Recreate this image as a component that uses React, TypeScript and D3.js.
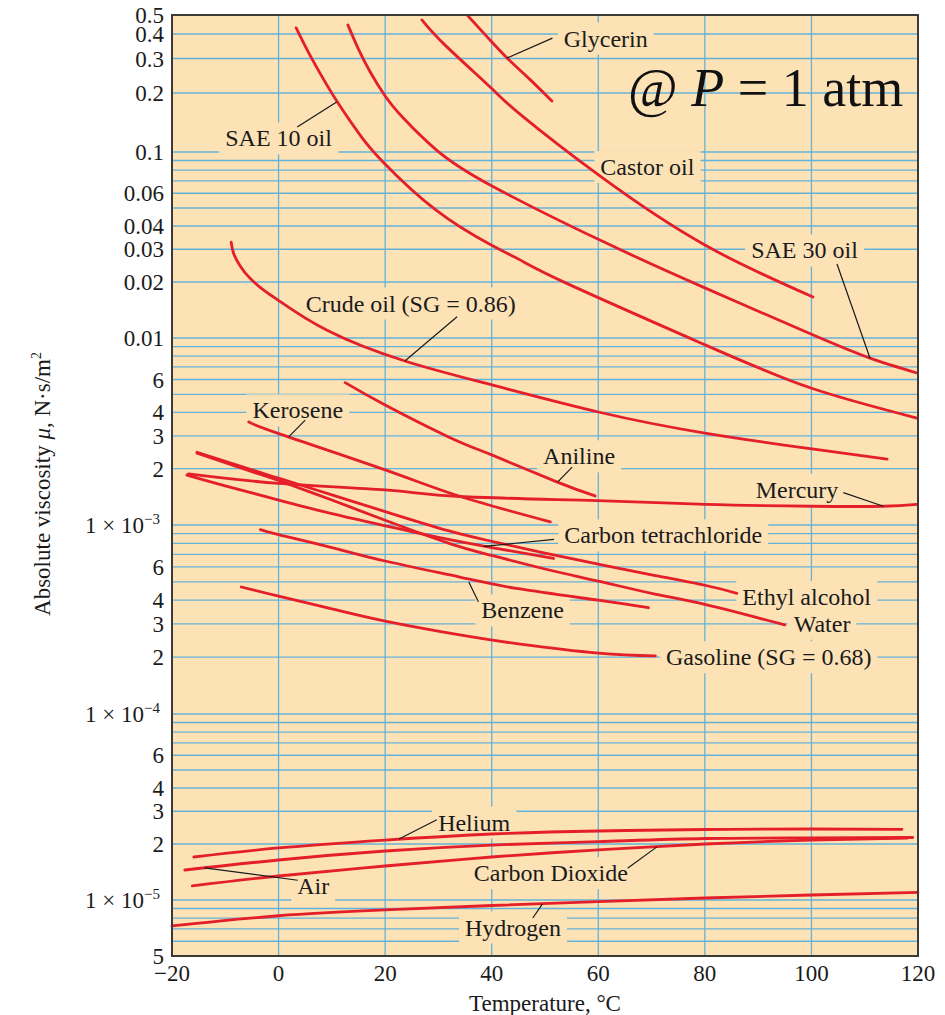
import { useEffect, useRef } from "react";
import * as d3 from "d3";

// viscosity of fluids at 1 atm as [°C, N·s/m²]
const glycerin = [[35.55, 0.494], [39.1, 0.388], [42.87, 0.302], [47.2, 0.234], [51.3, 0.182]];
const castorOil = [[26.9, 0.472], [31.2, 0.352], [39.9, 0.212], [45.3, 0.156], [60.3, 0.0743], [80, 0.0316], [100.3, 0.0166]];
const sae30 = [[13, 0.445], [14.9, 0.339], [17.2, 0.256], [20, 0.193], [23.4, 0.149], [29.7, 0.102], [39.7, 0.0665], [60.3, 0.0336], [80, 0.0186], [99.9, 0.0105], [111, 0.0078], [119.8, 0.0065]];
const sae10 = [[3.3, 0.43], [5, 0.347], [7, 0.275], [10.8, 0.184], [15.3, 0.122], [19.6, 0.0884], [29.5, 0.0488], [39.9, 0.0316], [45.3, 0.0263], [54.7, 0.0193], [80, 0.0092], [99.9, 0.0054], [119.8, 0.00373]];
const crudeOil = [[-8.9, 0.0328], [-8.4, 0.0283], [-7.2, 0.0244], [-5.4, 0.021], [-2.6, 0.0179], [-0.1, 0.016], [9.1, 0.011], [23.7, 0.00753], [40, 0.00561], [60, 0.00402], [80, 0.0031], [100.1, 0.00255], [114.2, 0.00225]];
const aniline = [[12.5, 0.00577], [20, 0.00438], [32.2, 0.00293], [40, 0.00237], [52.2, 0.0017], [59.4, 0.00143]];
const kerosene = [[-5.6, 0.00356], [-0.1, 0.00309], [20, 0.00197], [34.1, 0.00142], [51, 0.00104]];
const mercury = [[-16.9, 0.001875], [0, 0.00167], [20, 0.00154], [34.1, 0.00142], [59.8, 0.00135], [80.1, 0.00129], [100.1, 0.00126], [113.5, 0.00126], [119.8, 0.00129]];
const ethylAlcohol = [[-15.3, 0.00245], [-5, 0.00197], [0, 0.00178], [10, 0.00145], [20, 0.00118], [32, 0.00093], [40, 0.00082], [50, 0.00071], [60, 0.00062], [70, 0.000545], [80, 0.00048], [86, 0.000435]];
const water = [[-15.3, 0.00242], [-5, 0.00193], [0, 0.00173], [10, 0.00136], [20, 0.00106], [32, 0.0008], [40, 0.00069], [50, 0.000585], [60, 0.000505], [70, 0.000435], [80, 0.00038], [95, 0.000296]];
const carbonTet = [[-17.2, 0.00185], [-10, 0.00162], [0, 0.00136], [10, 0.00115], [20, 0.00099], [30, 0.00086], [40, 0.00076], [51.6, 0.000665]];
const benzene = [[-3.4, 0.000945], [0, 0.00089], [10, 0.00076], [20, 0.000645], [34, 0.00053], [45, 0.00046], [60, 0.0004], [69.4, 0.000365]];
const gasoline = [[-7, 0.00047], [0, 0.00042], [10, 0.00036], [20, 0.00031], [34, 0.000262], [45, 0.000235], [60, 0.00021], [70.7, 0.000203]];
const helium = [[-15.9, 1.703e-5], [0, 1.905e-5], [20, 2.1e-5], [40, 2.264e-5], [60, 2.35e-5], [80, 2.393e-5], [100, 2.408e-5], [117, 2.4e-5]];
const air = [[-17.6, 1.45e-5], [0, 1.641e-5], [20, 1.834e-5], [40, 1.975e-5], [60, 2.06e-5], [80, 2.141e-5], [100, 2.154e-5], [119, 2.168e-5]];
const carbonDioxide = [[-16.2, 1.19e-5], [0, 1.346e-5], [20, 1.523e-5], [40, 1.703e-5], [60, 1.86e-5], [80, 2.0e-5], [100, 2.1e-5], [118, 2.154e-5]];
const hydrogen = [[-20, 7.25e-6], [0, 8.23e-6], [20, 8.84e-6], [40, 9.34e-6], [60, 9.81e-6], [80, 1.025e-5], [100, 1.064e-5], [120, 1.1e-5]];

const curves = [glycerin, castorOil, sae30, sae10, crudeOil, aniline, kerosene, mercury, ethylAlcohol, water, carbonTet, benzene, gasoline, helium, air, carbonDioxide, hydrogen];

const yTickValues = [0.5, 0.4, 0.3, 0.2, 0.1, 0.06, 0.04, 0.03, 0.02, 0.01, 0.006, 0.004, 0.003, 0.002, 0.001, 6e-4, 4e-4, 3e-4, 2e-4, 1e-4, 6e-5, 4e-5, 3e-5, 2e-5, 1e-5, 5e-6];
const yTickText = ["0.5", "0.4", "0.3", "0.2", "0.1", "0.06", "0.04", "0.03", "0.02", "0.01", "6", "4", "3", "2", "1 × 10|−3", "6", "4", "3", "2", "1 × 10|−4", "6", "4", "3", "2", "1 × 10|−5", "5"];
const xTickValues = [-20, 0, 20, 40, 60, 80, 100, 120];
const xTickText = ["−20", "0", "20", "40", "60", "80", "100", "120"];

// label text, centre, and optional leader line (all in [°C, μ])
const labels = [
  { text: "Glycerin", at: [61.4, 0.381], from: [51.4, 0.381], to: [42.9, 0.302] },
  { text: "SAE 10 oil", at: [0, 0.118], from: [3.5, 0.134], to: [10.9, 0.18] },
  { text: "Castor oil", at: [69.2, 0.0834] },
  { text: "SAE 30 oil", at: [98.7, 0.0297], from: [104.8, 0.025], to: [111, 0.0078] },
  { text: "Crude oil (SG = 0.86)", at: [24.8, 0.0154], from: [33.5, 0.013], to: [23.7, 0.00753] },
  { text: "Kerosene", at: [3.6, 0.00412], from: [5, 0.00364], to: [1.9, 0.00296] },
  { text: "Aniline", at: [56.4, 0.00234], from: [55.1, 0.00204], to: [52.4, 0.0017] },
  { text: "Mercury", at: [97.3, 0.00155], from: [106, 0.00149], to: [113.5, 0.00126] },
  { text: "Carbon tetrachloride", at: [72.2, 8.86e-4], from: [51.7, 8.4e-4], to: [38.5, 7.7e-4] },
  { text: "Ethyl alcohol", at: [99.1, 4.18e-4] },
  { text: "Water", at: [102, 3.02e-4] },
  { text: "Benzene", at: [45.8, 3.55e-4], from: [37.5, 3.93e-4], to: [35.7, 5.0e-4] },
  { text: "Gasoline (SG = 0.68)", at: [92, 2.01e-4] },
  { text: "Helium", at: [36.7, 2.62e-5], from: [29.7, 2.7e-5], to: [22.6, 2.13e-5] },
  { text: "Air", at: [6.5, 1.19e-5], from: [3.6, 1.277e-5], to: [-13.9, 1.49e-5] },
  { text: "Carbon Dioxide", at: [51.1, 1.4e-5], from: [65.5, 1.483e-5], to: [71, 1.93e-5] },
  { text: "Hydrogen", at: [44, 7.15e-6], from: [47.7, 8.0e-6], to: [49.5, 9.5e-6] },
];

const FONT = "'Liberation Serif', 'Times New Roman', serif";
const PEACH = "#fde2b6";
const GRID = "#63b2d8";
const RED = "#e41f29";

export default function App() {
  const svgRef = useRef<SVGSVGElement>(null);

  useEffect(() => {
    const svg = d3.select(svgRef.current);
    svg.selectAll("*").remove();
    svg.style("font-family", FONT);

    const x = d3.scaleLinear().domain([-20, 120]).range([172, 918]);
    // the printed axis has slightly uneven decades, so the log scale is piecewise
    const y = d3.scaleLog()
      .domain([5e-6, 1e-5, 1e-4, 1e-3, 1e-2, 1e-1, 0.5])
      .range([956, 900, 714, 525, 338, 152, 15]);

    const [x0, x1] = x.range();
    const yTop = y(0.5), yBot = y(5e-6);

    svg.append("rect")
      .attr("x", x0).attr("y", yTop)
      .attr("width", x1 - x0).attr("height", yBot - yTop)
      .attr("fill", PEACH);

    // grid
    const hGrid: number[] = [];
    for (let e = -6; e <= -1; e++) {
      for (let k = 1; k <= 9; k++) {
        const v = k * Math.pow(10, e);
        if (v > 5.01e-6 && v < 0.499) hGrid.push(v);
      }
    }
    const grid = svg.append("g").attr("stroke", GRID).attr("stroke-width", 1.3);
    grid.selectAll("line.h").data(hGrid).join("line")
      .attr("x1", x0).attr("x2", x1)
      .attr("y1", (d) => y(d)).attr("y2", (d) => y(d));
    grid.selectAll("line.v").data(xTickValues.slice(1, -1)).join("line")
      .attr("x1", (d) => x(d)).attr("x2", (d) => x(d))
      .attr("y1", yTop).attr("y2", yBot);

    const bgLayer = svg.append("g");
    const curveLayer = svg.append("g");
    const leaderLayer = svg.append("g");
    const textLayer = svg.append("g");

    const line = d3.line<number[]>()
      .x((d) => x(d[0]))
      .y((d) => y(d[1]))
      .curve(d3.curveNatural);

    curveLayer.selectAll("path").data(curves).join("path")
      .attr("d", (d) => line(d))
      .attr("fill", "none")
      .attr("stroke", RED)
      .attr("stroke-width", 2.8)
      .attr("stroke-linecap", "round");

    leaderLayer.selectAll("line").data(labels.filter((l) => l.from)).join("line")
      .attr("x1", (d) => x(d.from![0])).attr("y1", (d) => y(d.from![1]))
      .attr("x2", (d) => x(d.to![0])).attr("y2", (d) => y(d.to![1]))
      .attr("stroke", "#1a1a1a").attr("stroke-width", 1.2);

    const texts = textLayer.selectAll("text").data(labels).join("text")
      .attr("x", (d) => x(d.at[0]))
      .attr("y", (d) => y(d.at[1]))
      .attr("dy", "0.35em")
      .attr("text-anchor", "middle")
      .attr("font-size", 24)
      .attr("fill", "#1a1a1a")
      .text((d) => d.text);

    texts.each(function () {
      const bb = (this as SVGTextElement).getBBox();
      bgLayer.append("rect")
        .attr("x", bb.x - 6).attr("y", bb.y - 3)
        .attr("width", bb.width + 12).attr("height", bb.height + 6)
        .attr("fill", PEACH);
    });

    // pressure note
    const note = svg.append("text")
      .attr("x", 628).attr("y", 106)
      .attr("font-size", 54).attr("fill", "#111");
    note.append("tspan").text("@ ");
    note.append("tspan").attr("font-style", "italic").text("P");
    note.append("tspan").text(" = 1 atm");

    // frame
    svg.append("rect")
      .attr("x", x0).attr("y", yTop)
      .attr("width", x1 - x0).attr("height", yBot - yTop)
      .attr("fill", "none").attr("stroke", "#3d3935").attr("stroke-width", 2);

    // y tick labels
    yTickValues.forEach((v, i) => {
      const [base, sup] = yTickText[i].split("|");
      const t = svg.append("text")
        .attr("x", sup ? 160 : 164)
        .attr("y", y(v))
        .attr("dy", "0.35em")
        .attr("text-anchor", "end")
        .attr("font-size", 23)
        .attr("fill", "#1a1a1a");
      t.append("tspan").text(base);
      if (sup) t.append("tspan").attr("dy", -9).attr("font-size", 15).text(sup);
    });

    // x tick labels
    svg.append("g").selectAll("text").data(xTickValues).join("text")
      .attr("x", (d) => x(d))
      .attr("y", yBot + 25)
      .attr("text-anchor", "middle")
      .attr("font-size", 23)
      .attr("fill", "#1a1a1a")
      .text((d, i) => xTickText[i]);

    svg.append("text")
      .attr("x", 545).attr("y", 1011)
      .attr("text-anchor", "middle")
      .attr("font-size", 23)
      .attr("fill", "#1a1a1a")
      .text("Temperature, °C");

    const yt = svg.append("text")
      .attr("transform", "translate(42,484) rotate(-90)")
      .attr("dy", "0.35em")
      .attr("text-anchor", "middle")
      .attr("font-size", 23)
      .attr("fill", "#1a1a1a");
    yt.append("tspan").text("Absolute viscosity ");
    yt.append("tspan").attr("font-style", "italic").text("μ");
    yt.append("tspan").text(", N·s/m");
    yt.append("tspan").attr("dy", -9).attr("font-size", 14).text("2");
  }, []);

  return (
    <svg
      ref={svgRef}
      width={945}
      height={1015}
      style={{ position: "absolute", left: 0, top: 0, background: "#fff" }}
    />
  );
}
